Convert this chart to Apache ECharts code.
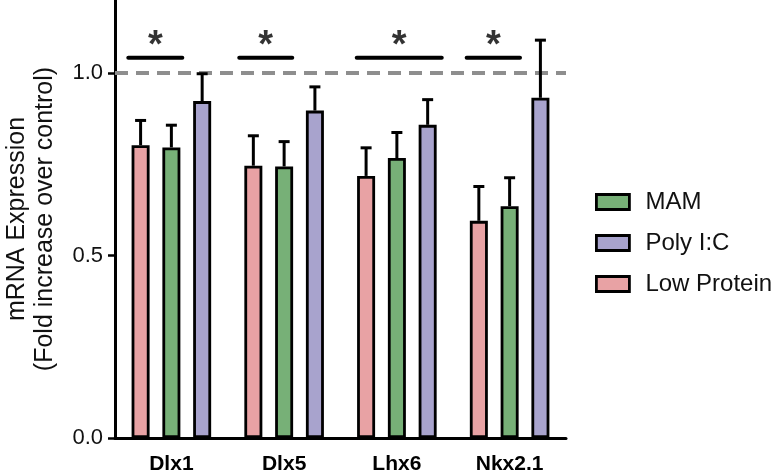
<!DOCTYPE html>
<html>
<head>
<meta charset="utf-8">
<script src="https://cdn.jsdelivr.net/npm/echarts@6/dist/echarts.min.js"></script>
<style>html,body{margin:0;padding:0;background:#fff}#c{width:774px;height:471px}</style>
</head>
<body>
<div id="c"></div>
<script>
// ---- data ----
var categories = ['Dlx1', 'Dlx5', 'Lhx6', 'Nkx2.1'];
var seriesNames = ['Low Protein', 'MAM', 'Poly I:C'];
var lowProtein = [0.802, 0.746, 0.718, 0.595];
var lowProteinErr = [0.870, 0.828, 0.795, 0.689];
var mam = [0.796, 0.744, 0.767, 0.635];
var mamErr = [0.857, 0.812, 0.837, 0.713];
var polyIC = [0.923, 0.897, 0.858, 0.932];
var polyICErr = [0.998, 0.962, 0.927, 1.090];
var yTicks = [0, 0.5, 1.0];
var referenceLevel = 1.0;
// significance spans on a 0..4 category-unit scale
var sigSpans = [[0.118, 0.597], [1.102, 1.572], [2.144, 2.898], [3.119, 3.592]];
var sigLevel = 1.042;
var starLevel = 1.072;
var legendOrder = ['MAM', 'Poly I:C', 'Low Protein'];

var colors = ['#e8a2a4', '#77b077', '#a8a3cd'];
var values = [lowProtein, mam, polyIC];
var errs = [lowProteinErr, mamErr, polyICErr];

var BAR_W = 18, GAP = '71%';
var SPACING = BAR_W * 1.71;
var FONT = 'Liberation Sans, Arial, Helvetica, sans-serif';

var series = [];
seriesNames.forEach(function (name, k) {
  series.push({
    name: name,
    type: 'bar',
    barWidth: BAR_W,
    barGap: GAP,
    data: values[k],
    itemStyle: { color: colors[k], borderColor: '#000', borderWidth: 2.8 },
    z: 3,
    markLine: k === 0 ? {
      silent: true, symbol: 'none',
      label: { show: false },
      lineStyle: { color: '#8e8e8e', width: 4, type: [13, 8] },
      data: [{ yAxis: referenceLevel }],
      z: 1
    } : undefined
  });
});
seriesNames.forEach(function (name, k) {
  series.push({
    type: 'custom',
    name: name + ' err',
    z: 2,
    data: categories.map(function (c, i) { return [i, values[k][i], errs[k][i]]; }),
    renderItem: function (params, api) {
      var base = api.coord([api.value(0), api.value(1)]);
      var top = api.coord([api.value(0), api.value(2)]);
      var x = base[0] + (k - 1) * SPACING;
      var cap = 5.5;
      return {
        type: 'group',
        children: [
          { type: 'line', shape: { x1: x, y1: base[1], x2: x, y2: top[1] }, style: { stroke: '#000', lineWidth: 3 } },
          { type: 'line', shape: { x1: x - cap, y1: top[1], x2: x + cap, y2: top[1] }, style: { stroke: '#000', lineWidth: 3 } }
        ]
      };
    }
  });
});
sigSpans.forEach(function (s) {
  series.push({
    type: 'line', xAxisIndex: 1, symbol: 'none', silent: true, z: 4,
    lineStyle: { color: '#000', width: 4, cap: 'round' },
    data: [[s[0], sigLevel], [s[1], sigLevel]]
  });
});
series.push({
  type: 'scatter', xAxisIndex: 1, symbolSize: 1, silent: true, z: 4,
  itemStyle: { color: 'rgba(0,0,0,0)' },
  label: { show: true, position: 'inside', formatter: '*', color: '#000', fontSize: 38, fontWeight: 'bold', fontFamily: FONT },
  data: sigSpans.map(function (s) { return [(s[0] + s[1]) / 2, starLevel]; })
});

var chart = echarts.init(document.getElementById('c'));
chart.setOption({
  animation: false,
  color: colors,
  grid: { left: 115, right: 208, top: 0, bottom: 33, containLabel: false, outerBoundsMode: 'none' },
  legend: {
    data: legendOrder,
    orient: 'vertical',
    left: 590, top: 185,
    icon: 'rect',
    itemWidth: 33, itemHeight: 15, itemGap: 17,
    itemStyle: { borderColor: '#000', borderWidth: 2.8 },
    textStyle: { fontSize: 24, color: '#111', fontFamily: FONT, padding: [0, 0, 0, 11] }
  },
  xAxis: [{
    type: 'category',
    data: categories,
    axisLine: { lineStyle: { color: '#000', width: 3 } },
    axisTick: { alignWithLabel: true, length: 7, lineStyle: { color: '#000', width: 2.5 } },
    axisLabel: { color: '#000', fontSize: 21, fontWeight: 'bold', fontFamily: FONT, margin: 16 }
  }, {
    type: 'value', min: 0, max: 4, show: false
  }],
  yAxis: {
    type: 'value', min: 0, max: 1.2, interval: 0.5,
    name: 'mRNA Expression\n(Fold increase over control)',
    nameLocation: 'middle', nameGap: 56,
    nameTextStyle: { fontSize: 25, color: '#111', fontFamily: FONT, lineHeight: 28 },
    splitLine: { show: false },
    axisLine: { show: true, lineStyle: { color: '#000', width: 3 } },
    axisTick: { show: true, length: 7, customValues: yTicks, lineStyle: { color: '#000', width: 2.5 } },
    axisLabel: { customValues: yTicks, color: '#111', fontSize: 22, fontFamily: FONT, margin: 12,
      formatter: function (v) { return v.toFixed(1); } }
  },
  series: series
});
</script>
</body>
</html>
